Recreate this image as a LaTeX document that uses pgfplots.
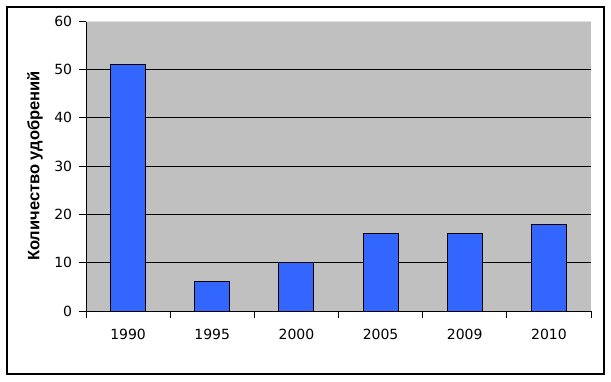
\documentclass[border=0pt]{standalone}
\usepackage{fontspec}
\setmainfont{DejaVu Sans}
\newfontfamily\labelfont{Liberation Sans}
\usepackage{pgfplots}
\pgfplotsset{compat=1.18}
\definecolor{plotgray}{HTML}{C0C0C0}
\definecolor{barblue}{HTML}{3366FF}
\begin{document}
\fontsize{14}{16}\selectfont
\begin{tikzpicture}[x=1pt,y=1pt]
\path[use as bounding box] (0,0) rectangle (611,381);
\fill[white] (0,0) rectangle (611,381);
\draw[black, line width=1.3pt] (7,7) rectangle (604,374);
\begin{axis}[
  at={(86pt,70pt)}, anchor=south west,
  scale only axis, width=505pt, height=290pt,
  ymin=0, ymax=60, xmin=-0.5, xmax=5.5,
  ytick={0,10,...,60},
  ymajorgrids, grid style={black, line width=0.9pt},
  xtick={0,...,5}, xticklabels={1990,1995,2000,2005,2009,2010},
  major x tick style={draw=none},
  minor xtick={-0.5,0.5,...,5.5},
  tick align=outside, major tick length=7pt, minor tick length=7pt,
  axis x line*=bottom, axis y line*=left,
  axis line style={black, line width=0.9pt, -},
  tick style={black, line width=0.9pt},
  axis background/.style={fill=plotgray},
  ybar, bar width=35pt,
  ylabel={\labelfont\bfseries Количество удобрений},
  ylabel style={at={(axis description cs:-0.101,0.5)}, anchor=center, font=\fontsize{16.5}{18}\selectfont},
  ticklabel style={font=\fontsize{14}{16}\selectfont},
  xticklabel style={yshift=-6pt},
  yticklabel style={xshift=-2pt},
  /pgf/number format/assume math mode=true,
  clip=false,
]
\addplot[fill=barblue, draw=black, line width=0.9pt] coordinates {(0,51) (1,6.2) (2,10) (3,16) (4,16) (5,18)};
\draw[gray!25, line width=0.8pt] (rel axis cs:0,1) -- (rel axis cs:1,1);
\end{axis}
\end{tikzpicture}
\end{document}
